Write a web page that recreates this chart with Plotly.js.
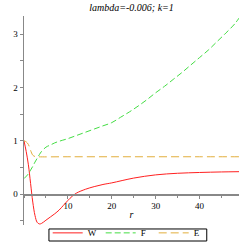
<!DOCTYPE html>
<html><head><meta charset="utf-8">
<script src="https://cdn.plot.ly/plotly-3.0.1.min.js"></script>
<style>html,body{margin:0;padding:0;background:#fff}#c{width:245px;height:245px}</style>
</head><body><div id="c"></div>
<script>
const rW = [0,0.5,1,1.5,2,2.5,3,3.5,4,5,6,7,8,9,10,11,12,14,16,18,20,25,30,35,40,45,49];
const W  = [1,0.8,0.55,0.2,-0.15,-0.4,-0.53,-0.56,-0.55,-0.49,-0.43,-0.37,-0.3,-0.21,-0.12,-0.04,0.02,0.09,0.14,0.18,0.21,0.3,0.36,0.39,0.405,0.415,0.42];
const rF = [0,1,1.5,2,2.5,3,3.5,4,5,6,7,8,10,12,14,16,18,20,22,24,26,28,30,32,34,36,38,40,42,44,46,48,49];
const F  = [0.29,0.38,0.45,0.52,0.6,0.67,0.74,0.8,0.88,0.92,0.96,0.99,1.04,1.1,1.16,1.22,1.28,1.34,1.44,1.54,1.65,1.77,1.9,2.02,2.15,2.28,2.42,2.56,2.7,2.86,3.02,3.19,3.3];
const rE = [0,0.5,1,1.5,2,2.5,3,10,20,30,40,49];
const E  = [1,0.98,0.93,0.82,0.73,0.705,0.7,0.7,0.7,0.7,0.7,0.7];
const xTicks = [10,20,30,40];
const yTicks = [0,1,2,3];
const titleText = "lambda=-0.006; k=1";

const yMin = -0.58, yMax = 3.34;
const serif = "Liberation Serif, Times New Roman, serif";
const traces = [
  {x: rW, y: W, name: "W", mode: "lines", line: {color: "#ff2020", width: 1, shape: "spline"}},
  {x: rF, y: F, name: "F", mode: "lines", line: {color: "#44dd44", width: 1, dash: "6px,3px", shape: "spline"}},
  {x: rE, y: E, name: "E", mode: "lines", line: {color: "#e2ae3c", width: 1, dash: "8px,4px", shape: "spline"}}
];
const layout = {
  width: 245, height: 245,
  margin: {l: 24, r: 6, t: 16, b: 20, pad: 0, autoexpand: false},
  paper_bgcolor: "#fff", plot_bgcolor: "#fff",
  showlegend: true,
  title: {text: "<i>" + titleText + "</i>", font: {family: serif, size: 10, color: "#000"}, x: 0.537, xanchor: "center", y: 0.97, yanchor: "middle"},
  xaxis: {
    range: [0, 49], anchor: "free", position: (0 - yMin) / (yMax - yMin), automargin: false,
    tickvals: xTicks, ticktext: xTicks.map(String), ticks: "outside", ticklen: 3, tickcolor: "#888",
    minor: {dtick: 5, tick0: 0, ticks: "outside", ticklen: 2, tickcolor: "#888"},
    showline: true, linecolor: "#888", linewidth: 1.5, showgrid: false, zeroline: false,
    tickfont: {family: serif, size: 9, color: "#000"},
    title: {text: "<i>r</i>", font: {family: serif, size: 10, color: "#000"}, standoff: 0}
  },
  yaxis: {
    range: [yMin, yMax], tickvals: yTicks, ticktext: yTicks.map(String), automargin: false,
    ticks: "outside", ticklen: 3, tickcolor: "#888",
    minor: {dtick: 0.5, tick0: 0, ticks: "outside", ticklen: 3, tickcolor: "#888"},
    showline: true, linecolor: "#888", linewidth: 1.5, showgrid: false, zeroline: false,
    tickfont: {family: serif, size: 9, color: "#000"}
  },
  legend: {
    orientation: "h", x: 0.48, xanchor: "center", y: -0.107, yanchor: "bottom",
    borderwidth: 0, bgcolor: "rgba(255,255,255,0)",
    font: {family: serif, size: 9, color: "#000"}, itemwidth: 30, tracegroupgap: 0,
    entrywidth: 8, entrywidthmode: "pixels"
  },
  shapes: [{
    type: "rect", xref: "paper", yref: "paper",
    x0: 0.116, x1: 0.85, y0: -0.0766, y1: -0.019,
    line: {color: "#000", width: 1}, fillcolor: "rgba(0,0,0,0)", layer: "above"
  }]
};
Plotly.newPlot("c", traces, layout, {staticPlot: true, displayModeBar: false});
</script></body></html>
